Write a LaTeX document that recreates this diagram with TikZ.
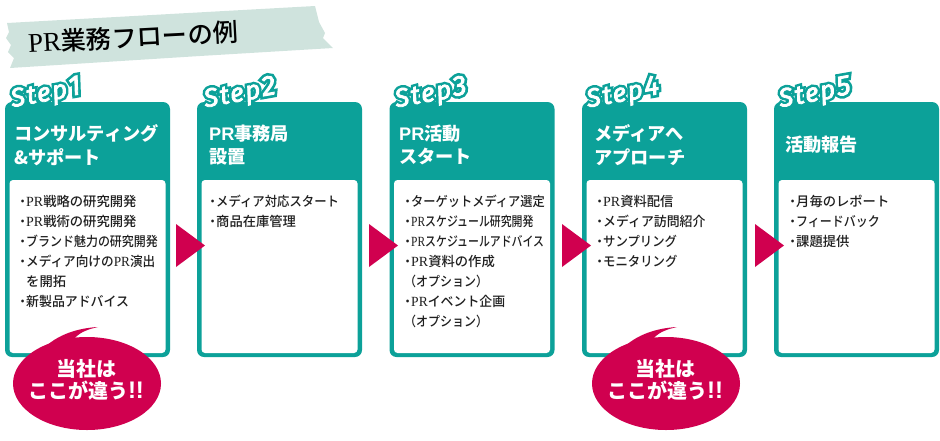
\documentclass[tikz,border=0pt]{standalone}
\usepackage{fontspec}
\usepackage{graphicx}
\setmainfont{Liberation Serif}
\newfontfamily\jp{Noto Sans CJK JP Medium}
\newfontfamily\jph{Noto Sans CJK JP Black}
\newfontfamily\hb{Liberation Sans Bold}
\newfontfamily\stepw[FakeBold=3,LetterSpace=7]{Fira Sans Italic}
\newfontfamily\stepo[FakeBold=22,LetterSpace=7]{Fira Sans Italic}
\definecolor{teal1}{HTML}{0CA199}
\definecolor{mag}{HTML}{D0004F}
\definecolor{tape}{HTML}{CFE3DD}
\newcommand{\bl}{\makebox[7pt][c]{\textbf{·}}}
\newcommand{\ind}{\hspace*{7pt}}
\newcommand{\latin}[1]{{\rmfamily\fontsize{14}{20}\selectfont #1}}
\newcommand{\nw}[2]{\scalebox{#1}[1]{#2}}
\tikzset{
 x=1pt,y=-1pt,
 cardbox/.style={fill=teal1,rounded corners=7pt},
 innerbox/.style={fill=white,rounded corners=3.5pt},
 listtext/.style={anchor=north west,inner sep=0pt,align=left,font=\fontsize{13.3}{20}\selectfont\jp,text=black!88},
 titletext/.style={anchor=west,inner sep=0pt,align=left,text=white,font=\fontsize{18.2}{23.5}\selectfont\jph},
 calltext/.style={inner sep=0pt,align=center,text=white,font=\fontsize{20}{22}\selectfont\jph},
 steptext/.style={inner sep=0pt,rotate=10,text=white},
 stepouter/.style={inner sep=0pt,rotate=10,text=teal1},
 arrowfill/.style={fill=mag},
 callfill/.style={fill=mag},
}
\newcommand{\stepmark}[3]{%
 \node[stepouter] (#1o) at (#2,94) {\fontsize{26}{26}\selectfont\stepo Step\hspace{2pt}\raisebox{1pt}{\fontsize{28}{28}\selectfont #3}};
 \node[steptext] (#1w) at (#2,94) {\fontsize{26}{26}\selectfont\stepw Step\hspace{2pt}\raisebox{1pt}{\fontsize{28}{28}\selectfont #3}};
}
\newcommand{\card}[1]{%
 \fill[cardbox] (#1,102) rectangle +(165,255);
 \fill[innerbox] (#1+4.5,180) rectangle +(156,173);
}
\newcommand{\arr}[1]{\fill[arrowfill] (#1,224) -- (#1+29,245.5) -- (#1,267) -- cycle;}
\newcommand{\bubble}[1]{%
 \fill[callfill] (#1,383.5) ellipse [x radius=74,y radius=46.5];
 \fill[callfill] (#1-45,350) .. controls (#1-30,334) and (#1-8,328) .. (#1+11,327) .. controls (#1+2,329) and (#1-7,332) .. (#1-12,338) -- cycle;
}
\begin{document}
\begin{tikzpicture}
\useasboundingbox (0,0) rectangle (940,440);
% tape
\fill[tape] (7,23) -- (315,6) -- (319,22) -- (325,33) -- (323,38) -- (333,48) -- (200,56) -- (10,68) -- (14,58) -- (8,52) -- (11,45) -- (6,38) -- (9,32) -- cycle;
\node[inner sep=0pt,anchor=west,rotate=3] (title) at (28,43) {{\rmfamily\fontsize{27}{27}\selectfont PR}\fontsize{25.3}{26}\selectfont\jp 業務フローの例};
% cards
\card{5}\card{197}\card{389.5}\card{582}\card{774}
\stepmark{sa}{46}{1}
\stepmark{sb}{240}{2}
\stepmark{sc}{431}{3}
\stepmark{sd}{623}{4}
\stepmark{se}{815}{5}
% titles
\node[titletext] (t1) at (14,145) {コンサルティング\\\&サポート};
\node[titletext] (t2) at (209,145) {{\hb PR}事務局\\設置};
\node[titletext] (t3) at (399,145) {{\hb PR}活動\\スタート};
\node[titletext] (t4) at (594,145) {メディアへ\\アプローチ};
\node[titletext] (t5) at (785,145) {活動報告};
% lists
\node[listtext] (l1) at (19,195) {\bl\latin{PR}戦略の研究開発\\\bl\latin{PR}戦術の研究開発\\\bl\nw{.9}{ブランド魅力の研究開発}\\\bl\nw{.95}{メディア向けの\latin{PR}演出}\\\ind を開拓\\\bl\nw{.97}{新製品アドバイス}};
\node[listtext] (l2) at (209,195) {\bl\nw{.93}{メディア対応スタート}\\\bl 商品在庫管理};
\node[listtext] (l3) at (404,195) {\bl\nw{.92}{ターゲットメディア選定}\\\bl\nw{.82}{\latin{PR}スケジュール研究開発}\\\bl\nw{.82}{\latin{PR}スケジュールアドバイス}\\\bl\latin{PR}資料の作成\\\nw{.9}{（オプション）}\\\bl\nw{.97}{\latin{PR}イベント企画}\\\nw{.9}{（オプション）}};
\node[listtext] (l4) at (596,195) {\bl\latin{PR}資料配信\\\bl\nw{.97}{メディア訪問紹介}\\\bl\nw{.93}{サンプリング}\\\bl\nw{.93}{モニタリング}};
\node[listtext] (l5) at (789,195) {\bl 月毎のレポート\\\bl\nw{.9}{フィードバック}\\\bl 課題提供};
% arrows
\arr{176}\arr{369}\arr{562}\arr{755}
% callouts
\bubble{87}
\bubble{666}
\node[calltext] (c1) at (86,380) {当社は\\ここが違う{\hb\fontsize{24}{22}\selectfont !!}};
\node[calltext] (c2) at (665,380) {当社は\\ここが違う{\hb\fontsize{24}{22}\selectfont !!}};
\end{tikzpicture}
\end{document}
